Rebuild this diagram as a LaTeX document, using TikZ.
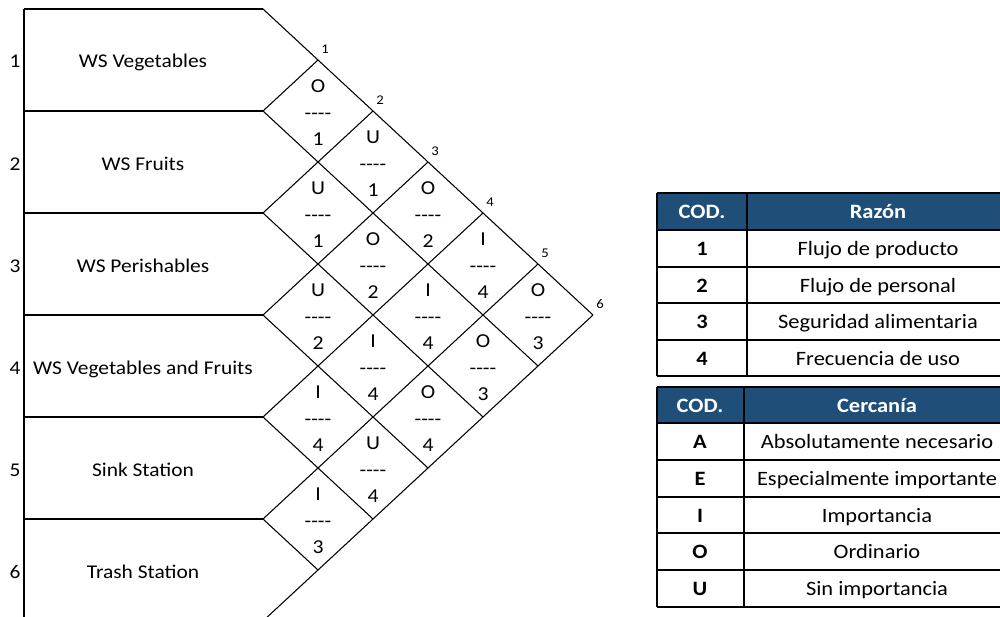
\documentclass[tikz,border=0pt]{standalone}
\usepackage{fontspec}
\setmainfont{Carlito}[FakeStretch=1.1, Ligatures=TeXOff]
\definecolor{hdrblue}{HTML}{1F4E79}
\begin{document}
\begin{tikzpicture}[x=0.75pt,y=-0.75pt,
  rowline/.style={line width=1.5pt},
  diagline/.style={line width=0.8pt},
  lab/.style={font=\fontsize{14.6}{17}\selectfont, inner sep=0pt, anchor=base},
  cell/.style={font=\fontsize{14.8}{19.9}\selectfont, align=center, inner sep=0pt},
  vlab/.style={font=\fontsize{10}{11}\selectfont, inner sep=0pt},
  tline/.style={line width=1.4pt},
  thead/.style={font=\bfseries\fontsize{15.3}{18}\selectfont, text=white, inner sep=0pt, anchor=base},
  tbody/.style={font=\fontsize{15.3}{18}\selectfont, inner sep=0pt, anchor=base},
  tcode/.style={font=\bfseries\fontsize{15.3}{18}\selectfont, inner sep=0pt, anchor=base}]
\useasboundingbox (0,0) rectangle (1000,617);
\clip (0,0) rectangle (1000,617);
% ---- left rows
\draw[rowline] (24,9) -- (24,640);
\foreach \k in {0,...,6}
  \draw[rowline] (24,{9+102*\k}) -- (263,{9+102*\k});
% ---- lattice
\foreach \k in {0,...,5}
  \draw[diagline] (263,{9+102*\k}) -- ++({55*(6-\k)},{51*(6-\k)});
\foreach \k in {1,...,6}
  \draw[diagline] (263,{9+102*\k}) -- ({263+55*\k},{9+51*\k});
% ---- row labels
\foreach \k/\t in {1/WS Vegetables,2/WS Fruits,3/WS Perishables,4/WS Vegetables and Fruits,5/Sink Station,6/Trash Station}{
  \node[lab] (n\k) at (15,{68+102*(\k-1)}) {\k};
  \node[lab] (r\k) at (143,{68+102*(\k-1)}) {\t};
}
% ---- vertex numbers
\foreach \k in {1,...,6}
  \node[vlab] (v\k) at ({263+55*\k+7},{9+51*\k-11}) {\k};
% ---- cells
\foreach \i/\j/\a/\b in {1/2/O/1,2/3/U/1,3/4/U/2,4/5/I/4,5/6/I/3,
                         1/3/U/1,2/4/O/2,3/5/I/4,4/6/U/4,
                         1/4/O/2,2/5/I/4,3/6/O/4,
                         1/5/I/4,2/6/O/3,
                         1/6/O/3}
  \node[cell] (c\i\j) at ({263+55*(\j-\i)},{9+51*(\i+\j-1)+2}) {\a\\----\\\b};
% ---- table 1
\fill[hdrblue] (657,193) rectangle (1010,230);
\foreach \y in {193,230,267,303,340,376}
  \draw[tline] (657,\y) -- (1010,\y);
\draw[tline] (657,193) -- (657,376);
\draw[tline] (747,193) -- (747,376);
\node[thead] (ta) at (702,218.5) {COD.};
\node[thead] (tb) at (878,218.5) {Razón};
\foreach \n/\y/\t in {1/255.5/Flujo de producto,2/292/Flujo de personal,3/328.5/Seguridad alimentaria,4/365/Frecuencia de uso}{
  \node[tcode] (ra\n) at (702,\y) {\n};
  \node[tbody] (rb\n) at (878,\y) {\t};
}
% ---- table 2
\fill[hdrblue] (657,387) rectangle (1010,423);
\foreach \y in {387,423,460,497,533,570,607}
  \draw[tline] (657,\y) -- (1010,\y);
\draw[tline] (657,387) -- (657,607);
\draw[tline] (744,387) -- (744,607);
\node[thead] (tc) at (700,412) {COD.};
\node[thead] (td) at (877,412) {Cercanía};
\foreach \n/\y/\t in {A/448.5/Absolutamente necesario,E/485.5/Especialmente importante,I/522/Importancia,O/558.5/Ordinario,U/595.5/Sin importancia}{
  \node[tcode] (ca\n) at (700,\y) {\n};
  \node[tbody] (cb\n) at (877,\y) {\t};
}
\end{tikzpicture}
\end{document}
